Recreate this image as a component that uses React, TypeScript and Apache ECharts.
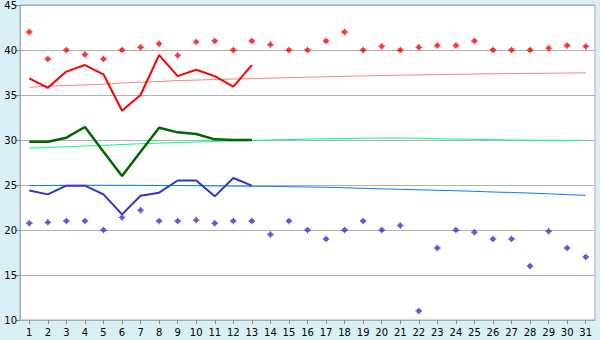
import React, { useEffect, useRef } from "react";
import * as echarts from "echarts";

const days = Array.from({ length: 31 }, (_, i) => String(i + 1));

const redLine = [36.85, 35.8, 37.6, 38.33, 37.3, 33.25, 35.0, 39.44, 37.1, 37.8, 37.1, 35.93, 38.33];
const greenLine = [29.8, 29.8, 30.26, 31.44, 28.7, 26.0, 28.7, 31.37, 30.85, 30.67, 30.07, 30.0, 30.0];
const blueLine = [24.4, 23.96, 24.93, 24.93, 23.96, 21.74, 23.8, 24.15, 25.5, 25.5, 23.74, 25.78, 24.93];

const redPoints = [42, 39, 40, 39.5, 39, 40, 40.3, 40.7, 39.4, 40.9, 41, 40, 41, 40.6, 40, 40, 41, 42, 40, 40.4, 40, 40.3, 40.5, 40.5, 41, 40, 40, 40, 40.2, 40.5, 40.4];
const bluePoints = [20.75, 20.85, 21, 21, 20, 21.4, 22.2, 21, 21, 21.1, 20.75, 21, 21, 19.5, 21, 20, 19, 20, 21, 20, 20.5, 11, 18, 20, 19.75, 19, 19, 16, 19.85, 18, 17];

const redTrend = [35.85, 36.0, 36.05, 36.12, 36.2, 36.33, 36.43, 36.5, 36.6, 36.66, 36.72, 36.78, 36.82, 36.88, 36.93, 36.98, 37.03, 37.07, 37.12, 37.17, 37.2, 37.24, 37.27, 37.3, 37.33, 37.36, 37.38, 37.4, 37.42, 37.44, 37.46];
const greenTrend = [29.1, 29.17, 29.25, 29.33, 29.4, 29.5, 29.58, 29.65, 29.72, 29.78, 29.84, 29.9, 29.95, 30.0, 30.05, 30.1, 30.14, 30.17, 30.2, 30.22, 30.22, 30.2, 30.14, 30.1, 30.07, 30.03, 30.0, 29.98, 29.97, 29.96, 29.96];
const blueTrend = [24.93, 24.95, 24.96, 24.97, 24.97, 24.97, 24.96, 24.95, 24.94, 24.92, 24.9, 24.88, 24.86, 24.84, 24.81, 24.78, 24.75, 24.7, 24.63, 24.57, 24.52, 24.47, 24.41, 24.36, 24.3, 24.22, 24.17, 24.1, 24.02, 23.93, 23.85];

const yMin = 10;
const yMax = 45;
const yStep = 5;

const markerPath = "path://M2,0H3V1H4V2H5V3H4V4H3V5H2V4H1V3H0V2H1V1H2Z";

export default function App() {
  const ref = useRef<HTMLDivElement>(null);
  useEffect(() => {
    if (!ref.current) return;
    const chart = echarts.init(ref.current, undefined, { renderer: "svg" });
    const font = { fontFamily: "DejaVu Sans", fontSize: 10, color: "#000" };
    const lineSeries = (data: number[], color: string, width: number, z: number) => ({
      type: "line",
      data,
      symbol: "none",
      z,
      lineStyle: { color, width },
      itemStyle: { color },
    });
    chart.setOption({
      animation: false,
      backgroundColor: "#d9f0f7",
      grid: {
        left: 20,
        right: 5,
        top: 5,
        bottom: 20,
        show: true,
        backgroundColor: "#ffffff",
        borderColor: "#aaaaaa",
        borderWidth: 1,
      },
      xAxis: {
        type: "category",
        data: days,
        boundaryGap: true,
        axisLine: { show: true, lineStyle: { color: "#aaaaaa", width: 1 } },
        axisTick: { show: true, alignWithLabel: true, length: 4, lineStyle: { color: "#888888" } },
        axisLabel: { ...font, margin: 7, interval: 0 },
        splitLine: { show: false },
      },
      yAxis: {
        type: "value",
        min: yMin,
        max: yMax,
        interval: yStep,
        axisLine: { show: true, lineStyle: { color: "#aaaaaa", width: 1 } },
        axisTick: { show: true, length: 4, lineStyle: { color: "#888888" } },
        axisLabel: { ...font, margin: 3 },
        splitLine: { show: true, lineStyle: { color: "#b0b0b0", width: 1 } },
      },
      series: [
        lineSeries(redTrend, "#ff8080", 1, 2),
        lineSeries(greenTrend, "#00ff80", 1, 2),
        lineSeries(blueTrend, "#0080ff", 1, 2),
        lineSeries(redLine, "#ff0000", 2, 3),
        lineSeries(greenLine, "#006600", 2.5, 3),
        lineSeries(blueLine, "#3333cc", 2, 3),
        {
          type: "scatter",
          data: redPoints,
          symbol: markerPath,
          symbolSize: 6.5,
          z: 4,
          itemStyle: { color: "#ff0000" },
        },
        {
          type: "scatter",
          data: bluePoints,
          symbol: markerPath,
          symbolSize: 6.5,
          z: 4,
          itemStyle: { color: "#3333cc" },
        },
      ],
    });
    return () => chart.dispose();
  }, []);
  return (
    <div
      ref={ref}
      style={{ position: "fixed", left: 0, top: 0, width: 600, height: 340 }}
    />
  );
}
